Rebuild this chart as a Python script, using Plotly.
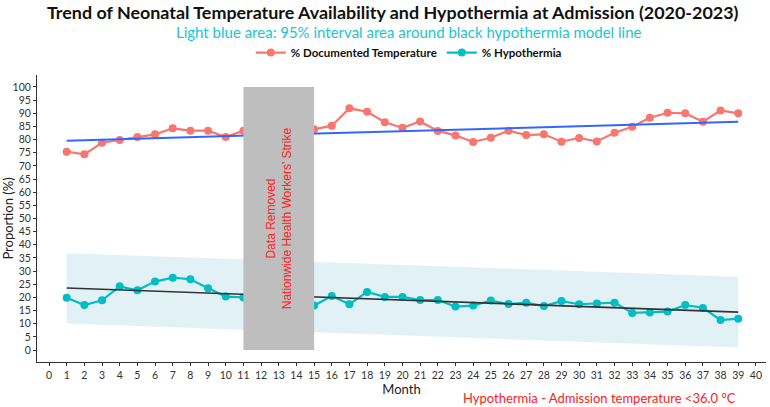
import plotly.graph_objects as go

# months (12-14 removed: strike)
months = [1, 2, 3, 4, 5, 6, 7, 8, 9, 10, 11,
          15, 16, 17, 18, 19, 20, 21, 22, 23, 24, 25, 26, 27,
          28, 29, 30, 31, 32, 33, 34, 35, 36, 37, 38, 39]

documented = [75.4, 74.4, 78.8, 79.8, 81.0, 82.0, 84.3, 83.4, 83.4, 81.0, 83.4,
              83.9, 85.3, 91.9, 90.6, 86.6, 84.5, 86.9, 83.3, 81.6, 79.1, 80.7, 83.4, 81.7,
              82.0, 79.2, 80.6, 79.3, 82.6, 84.9, 88.3, 90.2, 90.0, 86.8, 91.1, 90.0]

hypothermia = [19.9, 17.1, 18.9, 24.2, 22.7, 26.0, 27.5, 26.9, 23.5, 20.3, 20.0,
               16.9, 20.5, 17.4, 22.1, 20.2, 20.2, 19.0, 19.0, 16.5, 16.9, 18.8, 17.5, 18.0,
               16.7, 18.6, 17.4, 17.7, 18.0, 14.1, 14.3, 14.6, 17.1, 16.0, 11.4, 11.9]

# model lines and 95% band (endpoints)
fit_x = [1, 39]
doc_fit = [79.6, 86.8]
hyp_fit = [23.6, 14.4]
hyp_upper = [36.8, 27.9]
hyp_lower = [10.1, 1.0]

RED = "#F8766D"
TEAL = "#00BFC4"
FONT = "Lato, 'Open Sans', sans-serif"
CX = 0.51  # horizontal centre of the header texts (paper units)

fig = go.Figure()

# 95% interval band
fig.add_trace(go.Scatter(x=fit_x, y=hyp_upper, mode="lines", line=dict(width=0),
                         showlegend=False, hoverinfo="skip"))
fig.add_trace(go.Scatter(x=fit_x, y=hyp_lower, mode="lines", line=dict(width=0),
                         fill="tonexty", fillcolor="rgba(173,216,230,0.35)",
                         showlegend=False, hoverinfo="skip"))

fig.add_trace(go.Scatter(x=months, y=documented, mode="lines+markers",
                         name="% Documented Temperature",
                         line=dict(color=RED, width=2.2), marker=dict(size=8, color=RED)))
fig.add_trace(go.Scatter(x=months, y=hypothermia, mode="lines+markers",
                         name="% Hypothermia",
                         line=dict(color=TEAL, width=2.2), marker=dict(size=8, color=TEAL)))

fig.add_trace(go.Scatter(x=fit_x, y=doc_fit, mode="lines", line=dict(color="#3366FF", width=2),
                         showlegend=False))
fig.add_trace(go.Scatter(x=fit_x, y=hyp_fit, mode="lines", line=dict(color="#333333", width=1.6),
                         showlegend=False))

# strike gap
fig.add_shape(type="rect", x0=11, x1=15, y0=0, y1=100, fillcolor="#BEBEBE",
              line=dict(width=0), layer="above")
fig.add_annotation(x=13, y=50, text="Data Removed<br>Nationwide Health Workers' Strike",
                   textangle=-90, showarrow=False,
                   font=dict(family="Arial, 'Liberation Sans'", size=12, color="#FF2020"))

fig.update_layout(
    width=770, height=407,
    margin=dict(l=37, r=4, t=75, b=45, autoexpand=False),
    paper_bgcolor="white", plot_bgcolor="white",
    font=dict(family=FONT, color="#222222"),
    title=dict(text="<b>Trend of Neonatal Temperature Availability and Hypothermia at Admission (2020-2023)</b>",
               x=CX, xanchor="center", yref="container", y=0.969, yanchor="middle",
               font=dict(size=17.9, color="#111111")),
    legend=dict(orientation="h", x=CX, xanchor="center", y=1.078, yanchor="middle",
                font=dict(size=11.5, color="#111111", weight="bold"), traceorder="normal"),
    showlegend=True,
)

fig.add_annotation(text="Light blue area: 95% interval area around black hypothermia model line",
                   xref="paper", yref="paper", x=CX, y=1.149, xanchor="center", yanchor="middle",
                   showarrow=False, font=dict(size=15, color="#1CC4D2", family=FONT))
fig.add_annotation(text="Hypothermia - Admission temperature <36.0 °C",
                   xref="paper", yref="paper", x=0.962, y=-0.125, xanchor="right", yanchor="middle",
                   showarrow=False, font=dict(size=13, color="#FF2020", family=FONT))

fig.update_xaxes(range=[-0.68, 40.57], tickmode="linear", tick0=0, dtick=1,
                 showline=True, linecolor="#333333", linewidth=1, ticks="outside",
                 ticklen=3, tickcolor="#333333", showgrid=False, zeroline=False,
                 tickfont=dict(size=10.5, color="#333333"), automargin=False,
                 title=dict(text="Month", font=dict(size=13), standoff=2))
fig.update_yaxes(range=[-4.56, 104.56], tickmode="linear", tick0=0, dtick=5,
                 showline=True, linecolor="#333333", linewidth=1, ticks="outside",
                 ticklen=3, tickcolor="#333333", showgrid=False, zeroline=False,
                 tickfont=dict(size=10.5, color="#333333"), automargin=False,
                 title=dict(text="Proportion (%)", font=dict(size=13), standoff=4))

# drop the browser's default 8px body margin so the figure sits at 0,0
fig.write_html("out.html", config={"displayModeBar": False},
               post_script="document.body.style.margin='0';")
